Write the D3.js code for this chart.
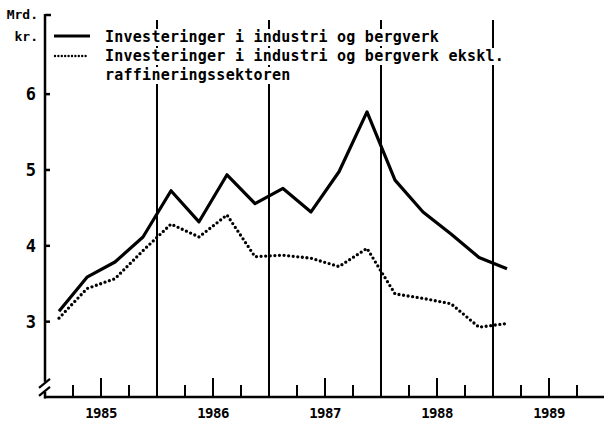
<!DOCTYPE html>
<html>
<head>
<meta charset="utf-8">
<script src="https://cdn.jsdelivr.net/npm/d3@7"></script>
<style>
  body { margin: 0; background: #fff; }
  text { font-family: "DejaVu Sans Mono", "Liberation Mono", monospace; font-weight: bold; fill: #000; }
</style>
</head>
<body>
<svg id="chart" width="604" height="425"></svg>
<script>
// quarterly data, 1985 Q1 - 1989 Q1 (Mrd. kr.)
const quarters = ["1985K1","1985K2","1985K3","1985K4","1986K1","1986K2","1986K3","1986K4",
                  "1987K1","1987K2","1987K3","1987K4","1988K1","1988K2","1988K3","1988K4","1989K1"];
const totalInv = [3.13, 3.58, 3.78, 4.11, 4.72, 4.31, 4.93, 4.55,
                  4.75, 4.44, 4.97, 5.76, 4.86, 4.44, 4.15, 3.84, 3.69];
const exclRefining = [3.04, 3.43, 3.56, 3.93, 4.28, 4.11, 4.40, 3.85,
                      3.87, 3.83, 3.72, 3.96, 3.36, 3.30, 3.23, 2.92, 2.97];
const years = [1985, 1986, 1987, 1988, 1989];
const yTicks = [3, 4, 5, 6];
const legendLabels = ["Investeringer i industri og bergverk",
                      "Investeringer i industri og bergverk ekskl.",
                      "raffineringssektoren"];

const svg = d3.select('#chart');
svg.append('rect').attr('width', 604).attr('height', 425).attr('fill', '#fff');

const x = d3.scaleLinear().domain([1985, 1990]).range([45, 605]);
const y = d3.scaleLinear().domain([2, 7.05]).range([397, 14]);

const qx = q => {
    const yr = +q.slice(0, 4), k = +q.slice(5);
    return x(yr + (k - 0.5) / 4);
};

// vertical year lines
svg.selectAll('.yearline')
    .data(years.slice(1))
    .enter().append('line')
    .attr('x1', d => x(d)).attr('x2', d => x(d))
    .attr('y1', y(6.97)).attr('y2', y(2))
    .attr('stroke', '#000').attr('stroke-width', 2);

// legend (white boxes behind text cut the year lines)
const legend = svg.append('g');
const rows = [42, 61, 80];
legendLabels.forEach((t, i) => {
    const txt = legend.append('text')
        .attr('x', 105).attr('y', rows[i])
        .attr('font-size', 15).attr('letter-spacing', 0.25)
        .text(t);
    const b = txt.node().getBBox();
    legend.insert('rect', 'text')
        .attr('x', b.x - 3).attr('y', b.y + 1)
        .attr('width', b.width + 6).attr('height', b.height - 1)
        .attr('fill', '#fff');
});
legend.append('line')
    .attr('x1', 54).attr('x2', 90).attr('y1', 36).attr('y2', 36)
    .attr('stroke', '#000').attr('stroke-width', 3);
legend.append('line')
    .attr('x1', 55).attr('x2', 89).attr('y1', 56).attr('y2', 56)
    .attr('stroke', '#000').attr('stroke-width', 2.4)
    .attr('stroke-linecap', 'round').attr('stroke-dasharray', '0 3.4');

// y axis
const yAxis = d3.axisLeft(y)
    .tickValues(yTicks)
    .tickFormat(d3.format('d'))
    .tickSizeInner(-5).tickSizeOuter(0).tickPadding(9);
const gy = svg.append('g')
    .attr('transform', `translate(${x(1985)},0)`)
    .call(yAxis);
gy.select('.domain').remove();
gy.selectAll('line').attr('stroke', '#000').attr('stroke-width', 2.5);
gy.selectAll('text').attr('font-size', 17).attr('font-family', '"DejaVu Sans", sans-serif')
    .attr('font-weight', 'bold').attr('dy', '0.36em');
svg.append('line')
    .attr('x1', x(1985)).attr('x2', x(1985))
    .attr('y1', y(7.05)).attr('y2', y(2) + 1.5)
    .attr('stroke', '#000').attr('stroke-width', 2.5);
svg.append('line')
    .attr('x1', x(1985)).attr('x2', x(1985) + 6)
    .attr('y1', y(7.05) + 1).attr('y2', y(7.05) + 1)
    .attr('stroke', '#000').attr('stroke-width', 2.5);
svg.append('text').attr('x', 38).attr('y', 19).attr('text-anchor', 'end')
    .attr('font-size', 13).text('Mrd.');
svg.append('text').attr('x', 38).attr('y', 41).attr('text-anchor', 'end')
    .attr('font-size', 13).text('kr.');

// axis break
svg.append('rect').attr('x', x(1985) - 3).attr('y', y(2.2)).attr('width', 6).attr('height', 10)
    .attr('fill', '#fff');
[y(2.2) + 2, y(2.2) + 10].forEach(v => {
    svg.append('line')
        .attr('x1', x(1985) - 6).attr('x2', x(1985) + 5)
        .attr('y1', v + 4).attr('y2', v - 5)
        .attr('stroke', '#000').attr('stroke-width', 2.2);
});

// x axis
svg.append('line')
    .attr('x1', x(1985) - 1).attr('x2', 604)
    .attr('y1', y(2)).attr('y2', y(2))
    .attr('stroke', '#000').attr('stroke-width', 2.5);
const qTicks = d3.range(1985, 1990, 0.25).filter(d => d % 1 !== 0);
svg.selectAll('.qtick')
    .data(qTicks)
    .enter().append('line')
    .attr('x1', d => x(d)).attr('x2', d => x(d))
    .attr('y1', y(2)).attr('y2', d => y(2) - (d % 1 === 0.5 ? 19 : 12))
    .attr('stroke', '#000').attr('stroke-width', 2);
svg.selectAll('.ylabel')
    .data(years)
    .enter().append('text')
    .attr('x', d => x(d + 0.5)).attr('y', 418)
    .attr('text-anchor', 'middle')
    .attr('font-size', 14).attr('letter-spacing', -0.5)
    .text(d => d);

// series
const line = d3.line()
    .x((d, i) => qx(quarters[i]))
    .y(d => y(d));

svg.append('path')
    .datum(totalInv)
    .attr('fill', 'none').attr('stroke', '#000')
    .attr('stroke-width', 3.2).attr('stroke-linejoin', 'round')
    .attr('d', line);

svg.append('path')
    .datum(exclRefining)
    .attr('fill', 'none').attr('stroke', '#000')
    .attr('stroke-width', 3.3).attr('stroke-linecap', 'round')
    .attr('stroke-dasharray', '0 4.6')
    .attr('d', line);
</script>
</body>
</html>
